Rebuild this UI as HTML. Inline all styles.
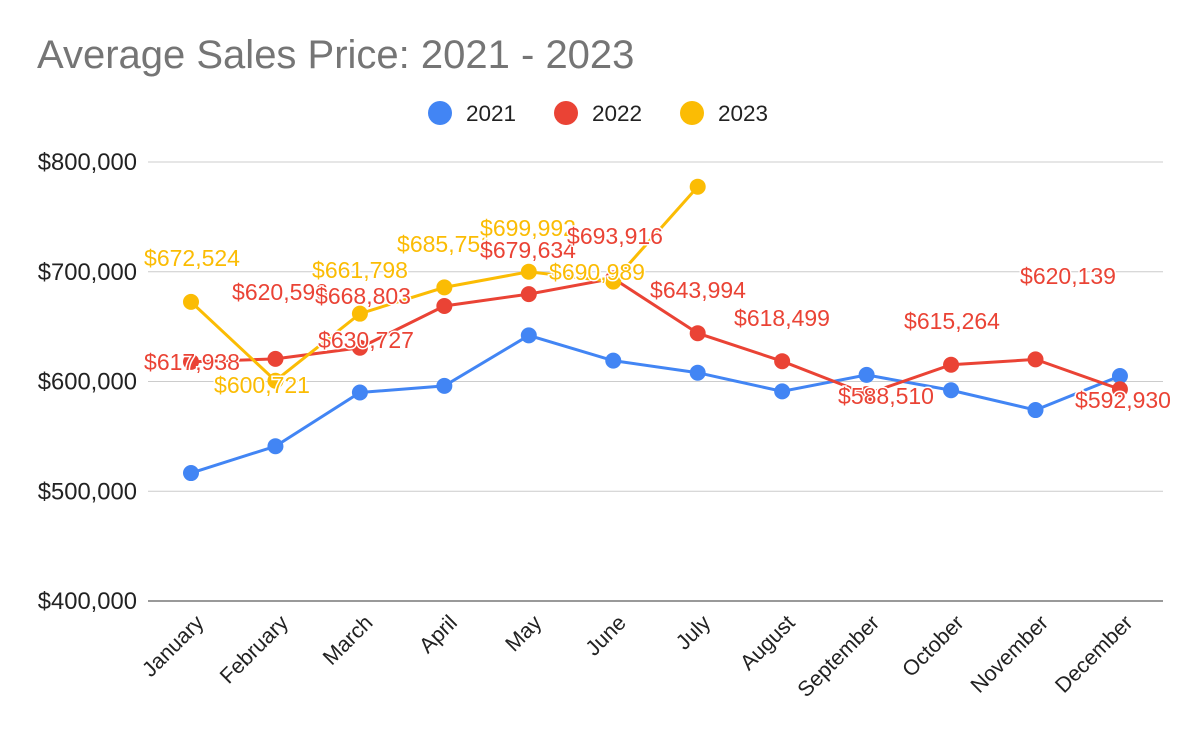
<!DOCTYPE html>
<html><head><meta charset="utf-8"><style>
body{margin:0;background:#fff;}
svg{font-family:"Liberation Sans",Arial,sans-serif;display:block}
</style></head><body>
<svg id="chart" width="1200" height="742">
<text x="37" y="68" font-size="40" fill="#757575">Average Sales Price: 2021 - 2023</text>
<g>
<g><circle cx="440" cy="113" r="12" fill="#4285f4"/><text x="466" y="121" font-size="22.5" fill="#222">2021</text></g>
<g><circle cx="566" cy="113" r="12" fill="#ea4335"/><text x="592" y="121" font-size="22.5" fill="#222">2022</text></g>
<g><circle cx="692" cy="113" r="12" fill="#fbbc04"/><text x="718" y="121" font-size="22.5" fill="#222">2023</text></g>
</g>
<g id="grid"></g><g id="series"></g><g id="labels"></g>
</svg>
<script>
const months=["January","February","March","April","May","June","July","August","September","October","November","December"];
const yTicks=[400000,500000,600000,700000,800000];
const s2021=[516600,541000,590000,596000,642000,619000,608000,591000,606000,592000,574000,605000];
const s2022=[617938,620596,630727,668803,679634,693916,643994,618499,588510,615264,620139,592930];
const s2023=[672524,600721,661798,685751,699992,690989,777500];
const labelPos2022=[[192,362],[280,292],[366,340],[363,296],[528,250],[615,236],[698,290],[782,318],[886,396],[952,321],[1068,276],[1123,400]];
const labelPos2023=[[192,258],[262,385],[360,270],[445,244],[528,228],[597,272],null];
const NS="http://www.w3.org/2000/svg";
const X=i=>191+i*84.45;
const Y=v=>601-(v-400000)/100000*109.75;
function mk(t,a,p){const e=document.createElementNS(NS,t);for(const k in a)e.setAttribute(k,a[k]);p.appendChild(e);return e;}
const grid=document.getElementById('grid');
yTicks.forEach(v=>{
 const l=mk('line',{x1:148,x2:1163,y1:Y(v),y2:Y(v),stroke:v==400000?'#333':'#ccc','stroke-width':1},grid);
 
 
 const t=mk('text',{x:137,y:Y(v)+8,'font-size':23.8,'text-anchor':'end',fill:'#222'},grid);
 t.textContent='$'+v.toLocaleString('en-US');
 
 
});
months.forEach((m,i)=>{
 const t=mk('text',{transform:`translate(${X(i)+14},${624}) rotate(-45)`,'font-size':21.5,'text-anchor':'end',fill:'#222'},grid);
 t.textContent=m;
 
 
});
const ser=document.getElementById('series');
function series(d,c,name){
 const g=mk('g',{},ser);
 
 
 const pl=mk('polyline',{points:d.map((v,i)=>X(i)+','+Y(v)).join(' '),fill:'none',stroke:c,'stroke-width':3},g);
 
 
 d.forEach((v,i)=>{const p=mk('circle',{cx:X(i),cy:Y(v),r:8,fill:c},g);
 
 });
}
series(s2021,'#4285f4','2021');series(s2022,'#ea4335','2022');series(s2023,'#fbbc04','2023');
const lab=document.getElementById('labels');
function labels(d,pos,c,name){
 d.forEach((v,i)=>{if(!pos[i])return;
  const t=mk('text',{x:pos[i][0],y:pos[i][1]+8,'font-size':23,'text-anchor':'middle',fill:c,stroke:'#fff','stroke-width':3,'paint-order':'stroke'},lab);
  t.textContent='$'+v.toLocaleString('en-US');
  
  });
}
labels(s2023,labelPos2023,'#fbbc04','2023');labels(s2022,labelPos2022,'#ea4335','2022');
</script>
</body></html>
